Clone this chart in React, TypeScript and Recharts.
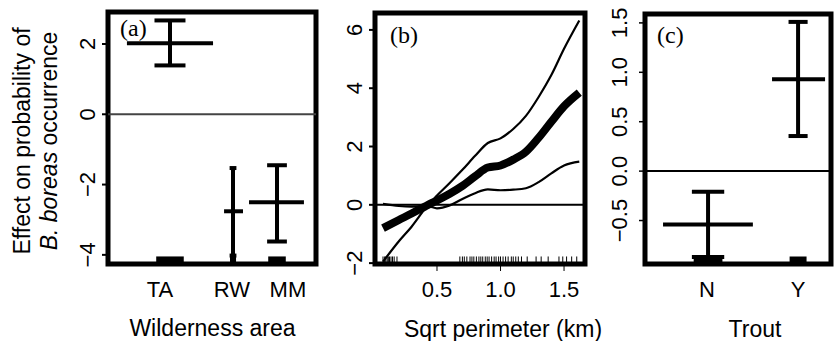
import React from 'react';
import { ComposedChart, Line, XAxis, YAxis, ReferenceLine, ReferenceArea } from 'recharts';

const FONT = '"Liberation Sans", Arial, Helvetica, sans-serif';
const SERIF = '"Liberation Serif", "Times New Roman", serif';

// ---------- Panel (a): Wilderness area ----------
const wildLevels = ['TA', 'RW', 'MM'];
const wildLabelPos = [0.25, 0.596, 0.865];
const wildFrom = [0.091, 0.558, 0.678];
const wildTo = [0.505, 0.649, 0.942];
const wildMid = [0.298, 0.601, 0.8125];
const wildEffect = [2.02, -2.76, -2.5];
const wildLower = [1.39, -4.02, -3.62];
const wildUpper = [2.67, -1.53, -1.45];
const wildYTicks = [-4, -2, 0, 2];

// ---------- Panel (b): Sqrt perimeter ----------
const perimX = [0.075, 0.2, 0.3, 0.43, 0.5, 0.6, 0.7, 0.8, 0.9, 1.0, 1.1, 1.2, 1.3, 1.4, 1.5, 1.62];
const perimFit = [-0.8, -0.52, -0.3, 0.0, 0.15, 0.38, 0.65, 0.98, 1.28, 1.35, 1.55, 1.82, 2.3, 2.85, 3.38, 3.85];
const perimUpper = [-1.95, -1.25, -0.75, 0.0, 0.32, 0.75, 1.2, 1.68, 2.12, 2.28, 2.6, 3.05, 3.7, 4.45, 5.35, 6.32];
const perimLower = [0.03, -0.04, -0.06, -0.05, -0.12, -0.02, 0.2, 0.4, 0.53, 0.5, 0.52, 0.57, 0.78, 1.08, 1.35, 1.48];
const perimRug = [
  0.075, 0.088, 0.097, 0.108, 0.117, 0.126, 0.138, 0.15, 0.163, 0.185,
  0.68, 0.7, 0.715, 0.735, 0.76, 0.775, 0.79, 0.81, 0.83, 0.845, 0.86, 0.88,
  0.895, 0.91, 0.93, 0.95, 0.965, 0.985, 1.0, 1.02, 1.04, 1.06, 1.085, 1.1,
  1.12, 1.14, 1.165, 1.21, 1.28, 1.32, 1.375, 1.46, 1.49, 1.52, 1.56, 1.6,
];
const perimXTicks = [0.5, 1.0, 1.5];
const perimYTicks = [-2, 0, 2, 4, 6];

// ---------- Panel (c): Trout ----------
const troutLevels = ['N', 'Y'];
const troutLabelPos = [0.333, 0.823];
const troutFrom = [0.097, 0.683];
const troutTo = [0.58, 0.968];
const troutMid = [0.339, 0.823];
const troutEffect = [-0.54, 0.93];
const troutLower = [-0.87, 0.355];
const troutUpper = [-0.21, 1.51];
const troutYTicks = [-0.5, 0, 0.5, 1.0, 1.5];

// ---------- layout / style constants ----------
const A_X: [number, number] = [0, 1];
const A_Y: [number, number] = [-4.26, 2.91];
const B_X: [number, number] = [0.012, 1.665];
const B_Y: [number, number] = [-2.03, 6.58];
const C_X: [number, number] = [0, 1];
const C_Y: [number, number] = [-0.94, 1.59];
const CAP = 0.18;
const RUGW = 0.16;
const RUGH = 0.03;
const BAR_W = 4;

const perimData = perimX.map((x, i) => ({
  x,
  fit: perimFit[i],
  upper: perimUpper[i],
  lower: perimLower[i],
}));

const minusFmt = (v: number, digits = 0) => {
  const s = Math.abs(v).toFixed(digits);
  return v < 0 ? '\u2212' + s : s;
};

const RotTick = (props: any) => {
  const { x, y, payload, shift, fmt } = props;
  return (
    <text
      transform={`translate(${x - shift},${y}) rotate(-90)`}
      textAnchor="middle"
      fontSize={22}
      fontFamily={FONT}
      fill="#000"
    >
      {fmt(payload.value)}
    </text>
  );
};

const XTick = (props: any) => {
  const { x, y, payload, fmt, dy } = props;
  return (
    <text x={x} y={y + dy} textAnchor="middle" fontSize={22} fontFamily={FONT} fill="#000">
      {fmt(payload.value)}
    </text>
  );
};

const AxisTitle = (props: any) => (
  <text x={props.tx} y={props.ty} textAnchor="middle" fontSize={23} fontFamily={FONT} fill="#000">
    {props.text}
  </text>
);

const YTitleA = () => (
  <g>
    <text
      transform="translate(30,141) rotate(-90)"
      textAnchor="middle"
      fontSize={23}
      fontFamily={FONT}
      fill="#000"
    >
      Effect on probability of
    </text>
    <text
      transform="translate(57,141) rotate(-90)"
      textAnchor="middle"
      fontSize={23}
      fontFamily={FONT}
      fill="#000"
    >
      <tspan fontStyle="italic">B. boreas</tspan> occurrence
    </text>
  </g>
);

const PanelTag = (props: any) => {
  const vb = props.viewBox || { x: 0, y: 0 };
  return (
    <text x={vb.x + props.dx0} y={vb.y + props.dy0} fontSize={24} fontFamily={SERIF} fill="#000">
      {props.text}
    </text>
  );
};

function factorMarks(
  prefix: string,
  from: number[],
  to: number[],
  mid: number[],
  eff: number[],
  lo: number[],
  hi: number[],
  yDom: [number, number]
) {
  const out: React.ReactNode[] = [];
  const rugTop = yDom[0] + RUGH * (yDom[1] - yDom[0]);
  mid.forEach((m, i) => {
    const w = to[i] - from[i];
    const cap = CAP * w;
    const rug = RUGW * w;
    out.push(
      <ReferenceArea
        key={`${prefix}-rug-${i}`}
        x1={m - rug}
        x2={m + rug}
        y1={yDom[0]}
        y2={rugTop}
        fill="#000"
        fillOpacity={1}
        stroke="none"
      />
    );
    out.push(
      <ReferenceLine
        key={`${prefix}-eff-${i}`}
        segment={[{ x: from[i], y: eff[i] }, { x: to[i], y: eff[i] }]}
        stroke="#000"
        strokeWidth={BAR_W}
      />
    );
    out.push(
      <ReferenceLine
        key={`${prefix}-v-${i}`}
        segment={[{ x: m, y: lo[i] }, { x: m, y: hi[i] }]}
        stroke="#000"
        strokeWidth={BAR_W}
      />
    );
    out.push(
      <ReferenceLine
        key={`${prefix}-ct-${i}`}
        segment={[{ x: m - cap, y: hi[i] }, { x: m + cap, y: hi[i] }]}
        stroke="#000"
        strokeWidth={BAR_W}
      />
    );
    out.push(
      <ReferenceLine
        key={`${prefix}-cb-${i}`}
        segment={[{ x: m - cap, y: lo[i] }, { x: m + cap, y: lo[i] }]}
        stroke="#000"
        strokeWidth={BAR_W}
      />
    );
  });
  return out;
}

export default function App() {
  const bRugTop = B_Y[0] + RUGH * (B_Y[1] - B_Y[0]);
  return (
    <div style={{ position: 'absolute', left: 0, top: 0, width: 837, height: 341, background: '#fff' }}>
      {/* Panel (a) */}
      <div style={{ position: 'absolute', left: 0, top: 0 }}>
        <ComposedChart width={330} height={341} margin={{ top: 12, right: 14, bottom: 0, left: 0 }}>
          <XAxis
            type="number"
            dataKey="x"
            domain={A_X}
            allowDataOverflow
            ticks={wildLabelPos}
            interval={0}
            axisLine={false}
            tickLine={false}
            tickSize={6}
            tickMargin={2}
            height={77}
            tick={(p: any) => (
              <XTick {...p} dy={25} fmt={(v: number) => wildLevels[wildLabelPos.indexOf(v)]} />
            )}
            label={<AxisTitle tx={212.5} ty={336} text="Wilderness area" />}
          />
          <YAxis
            type="number"
            domain={A_Y}
            allowDataOverflow
            ticks={wildYTicks}
            interval={0}
            width={108}
            axisLine={false}
            tickLine={{ stroke: '#000', strokeWidth: 2 }}
            tickSize={6}
            tickMargin={2}
            tick={(p: any) => <RotTick {...p} shift={5} fmt={(v: number) => minusFmt(v)} />}
            label={<YTitleA />}
          />
          <ReferenceLine y={0} stroke="#444" strokeWidth={2} />
          {factorMarks('a', wildFrom, wildTo, wildMid, wildEffect, wildLower, wildUpper, A_Y)}
          <ReferenceArea
            x1={A_X[0]}
            x2={A_X[1]}
            y1={A_Y[0]}
            y2={A_Y[1]}
            fill="none"
            stroke="#000"
            strokeWidth={5}
            label={<PanelTag text="(a)" dx0={12} dy0={24} />}
          />
        </ComposedChart>
      </div>

      {/* Panel (c) (drawn first so panel (b)'s title is never covered) */}
      <div style={{ position: 'absolute', left: 600, top: 0 }}>
        <ComposedChart width={237} height={341} margin={{ top: 14, right: 6, bottom: 0, left: 0 }}>
          <XAxis
            type="number"
            dataKey="x"
            domain={C_X}
            allowDataOverflow
            ticks={troutLabelPos}
            interval={0}
            axisLine={false}
            tickLine={false}
            tickSize={6}
            tickMargin={2}
            height={77}
            tick={(p: any) => (
              <XTick {...p} dy={25} fmt={(v: number) => troutLevels[troutLabelPos.indexOf(v)]} />
            )}
            label={<AxisTitle tx={155} ty={337} text="Trout" />}
          />
          <YAxis
            type="number"
            domain={C_Y}
            allowDataOverflow
            ticks={troutYTicks}
            interval={0}
            width={45}
            axisLine={false}
            tickLine={{ stroke: '#000', strokeWidth: 1.5 }}
            tickSize={6}
            tickMargin={2}
            tick={(p: any) => <RotTick {...p} shift={10} fmt={(v: number) => minusFmt(v, 1)} />}
          />
          <ReferenceLine y={0} stroke="#000" strokeWidth={2} />
          {factorMarks('c', troutFrom, troutTo, troutMid, troutEffect, troutLower, troutUpper, C_Y)}
          <ReferenceArea
            x1={C_X[0]}
            x2={C_X[1]}
            y1={C_Y[0]}
            y2={C_Y[1]}
            fill="none"
            stroke="#000"
            strokeWidth={5}
            label={<PanelTag text="(c)" dx0={12} dy0={29} />}
          />
        </ComposedChart>
      </div>

      {/* Panel (b) */}
      <div style={{ position: 'absolute', left: 330, top: 0 }}>
        <ComposedChart
          width={280}
          height={341}
          data={perimData}
          margin={{ top: 13, right: 25, bottom: 0, left: 0 }}
        >
          <XAxis
            type="number"
            dataKey="x"
            domain={B_X}
            allowDataOverflow
            ticks={perimXTicks}
            interval={0}
            axisLine={false}
            tickLine={{ stroke: '#000', strokeWidth: 1 }}
            tickSize={7}
            tickMargin={1}
            height={77}
            tick={(p: any) => <XTick {...p} dy={25} fmt={(v: number) => v.toFixed(1)} />}
            label={<AxisTitle tx={173} ty={337} text="Sqrt perimeter (km)" />}
          />
          <YAxis
            type="number"
            domain={B_Y}
            allowDataOverflow
            ticks={perimYTicks}
            interval={0}
            width={45}
            axisLine={false}
            tickLine={{ stroke: '#000', strokeWidth: 2 }}
            tickSize={6}
            tickMargin={2}
            tick={(p: any) => <RotTick {...p} shift={5} fmt={(v: number) => minusFmt(v)} />}
          />
          <ReferenceLine y={0} stroke="#000" strokeWidth={2} />
          <Line
            dataKey="upper"
            type="monotone"
            stroke="#000"
            strokeWidth={2.2}
            dot={false}
            activeDot={false}
            isAnimationActive={false}
          />
          <Line
            dataKey="lower"
            type="monotone"
            stroke="#000"
            strokeWidth={2.2}
            dot={false}
            activeDot={false}
            isAnimationActive={false}
          />
          <Line
            dataKey="fit"
            type="monotone"
            stroke="#000"
            strokeWidth={8}
            strokeLinecap="butt"
            dot={false}
            activeDot={false}
            isAnimationActive={false}
          />
          {perimRug.map((v, i) => (
            <ReferenceLine
              key={`rug-${i}`}
              segment={[{ x: v, y: B_Y[0] }, { x: v, y: bRugTop }]}
              stroke="#000"
              strokeWidth={1}
            />
          ))}
          <ReferenceArea
            x1={B_X[0]}
            x2={B_X[1]}
            y1={B_Y[0]}
            y2={B_Y[1]}
            fill="none"
            stroke="#000"
            strokeWidth={5}
            label={<PanelTag text="(b)" dx0={15} dy0={30} />}
          />
        </ComposedChart>
      </div>
    </div>
  );
}
